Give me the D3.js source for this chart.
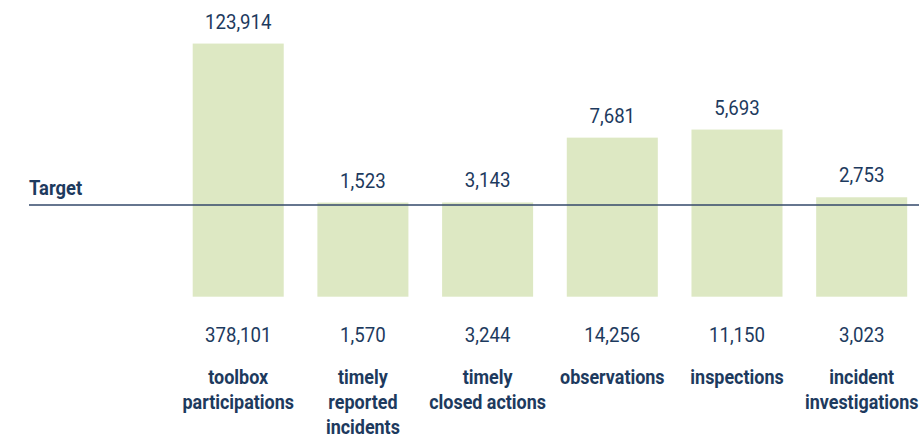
<!DOCTYPE html>
<html>
<head>
<meta charset="utf-8">
<script src="https://cdn.jsdelivr.net/npm/d3@7"></script>
<style>
  html, body { margin: 0; padding: 0; background: #ffffff; }
  svg { display: block; }
  .num { font-family: "Roboto", "Liberation Sans", sans-serif; font-size: 20.5px; fill: #1d3a5e; }
  .cat { font-family: "Roboto", "Liberation Sans", sans-serif; font-weight: bold; font-size: 20.5px; fill: #1d3a5e; }
  .tgt { font-family: "Roboto", "Liberation Sans", sans-serif; font-weight: bold; font-size: 20px; fill: #1d3a5e; }
</style>
</head>
<body>
<script>
// Safety KPIs: target figures (above the bars) and actual results (below)
const categories = [
  "toolbox participations",
  "timely reported incidents",
  "timely closed actions",
  "observations",
  "inspections",
  "incident investigations"
];
const categoryLines = [
  ["toolbox", "participations"],
  ["timely", "reported", "incidents"],
  ["timely", "closed actions"],
  ["observations"],
  ["inspections"],
  ["incident", "investigations"]
];
const targets = [123914, 1523, 3143, 7681, 5693, 2753];
const actuals = [378101, 1570, 3244, 14256, 11150, 3023];
const targetLabel = "Target";

const width = 919, height = 440;
const fmt = d3.format(",");
// horizontal squeeze giving the lettering a condensed look
const numSqueeze = 0.91, catSqueeze = 0.875, tgtSqueeze = 0.92;

const data = categories.map((c, i) => ({
  cat: c,
  lines: categoryLines[i],
  target: targets[i],
  actual: actuals[i],
  ratio: actuals[i] / targets[i]
}));

const svg = d3.select("body").append("svg")
  .attr("width", width)
  .attr("height", height);

// Bars show actual / target; a ratio of 1 sits on the target line
const x = d3.scaleBand()
  .domain(categories)
  .range([192.7, 907.2])
  .paddingInner(0.27)
  .paddingOuter(0);

const y = d3.scaleLinear()
  .domain([0, 1])
  .range([283.7, 205]);

const barBottom = 296.7;
const cx = d => x(d.cat) + x.bandwidth() / 2;

svg.append("g").selectAll("rect")
  .data(data)
  .join("rect")
  .attr("x", d => x(d.cat))
  .attr("y", d => y(d.ratio))
  .attr("width", x.bandwidth())
  .attr("height", d => barBottom - y(d.ratio))
  .attr("fill", "#dde8c3");

// Target reference line
svg.append("line")
  .attr("x1", 29)
  .attr("x2", width)
  .attr("y1", y(1))
  .attr("y2", y(1))
  .attr("stroke", "#33496a")
  .attr("stroke-width", 1.3);

svg.append("text")
  .attr("class", "tgt")
  .attr("transform", `translate(29,195) scale(${tgtSqueeze},1)`)
  .text(targetLabel);

// Target values above each bar
svg.append("g").selectAll("text")
  .data(data)
  .join("text")
  .attr("class", "num")
  .attr("text-anchor", "middle")
  .attr("transform", d => `translate(${cx(d)},${y(d.ratio) - 15}) scale(${numSqueeze},1)`)
  .text(d => fmt(d.target));

// Actual values below the bars
svg.append("g").selectAll("text")
  .data(data)
  .join("text")
  .attr("class", "num")
  .attr("text-anchor", "middle")
  .attr("transform", d => `translate(${cx(d)},342) scale(${numSqueeze},1)`)
  .text(d => fmt(d.actual));

// Category names, wrapped
const catG = svg.append("g").selectAll("text")
  .data(data)
  .join("text")
  .attr("class", "cat")
  .attr("text-anchor", "middle")
  .attr("transform", d => `translate(${cx(d)},384) scale(${catSqueeze},1)`);

catG.selectAll("tspan")
  .data(d => d.lines)
  .join("tspan")
  .attr("x", 0)
  .attr("dy", (t, i) => i === 0 ? 0 : 25)
  .text(t => t);
</script>
</body>
</html>
